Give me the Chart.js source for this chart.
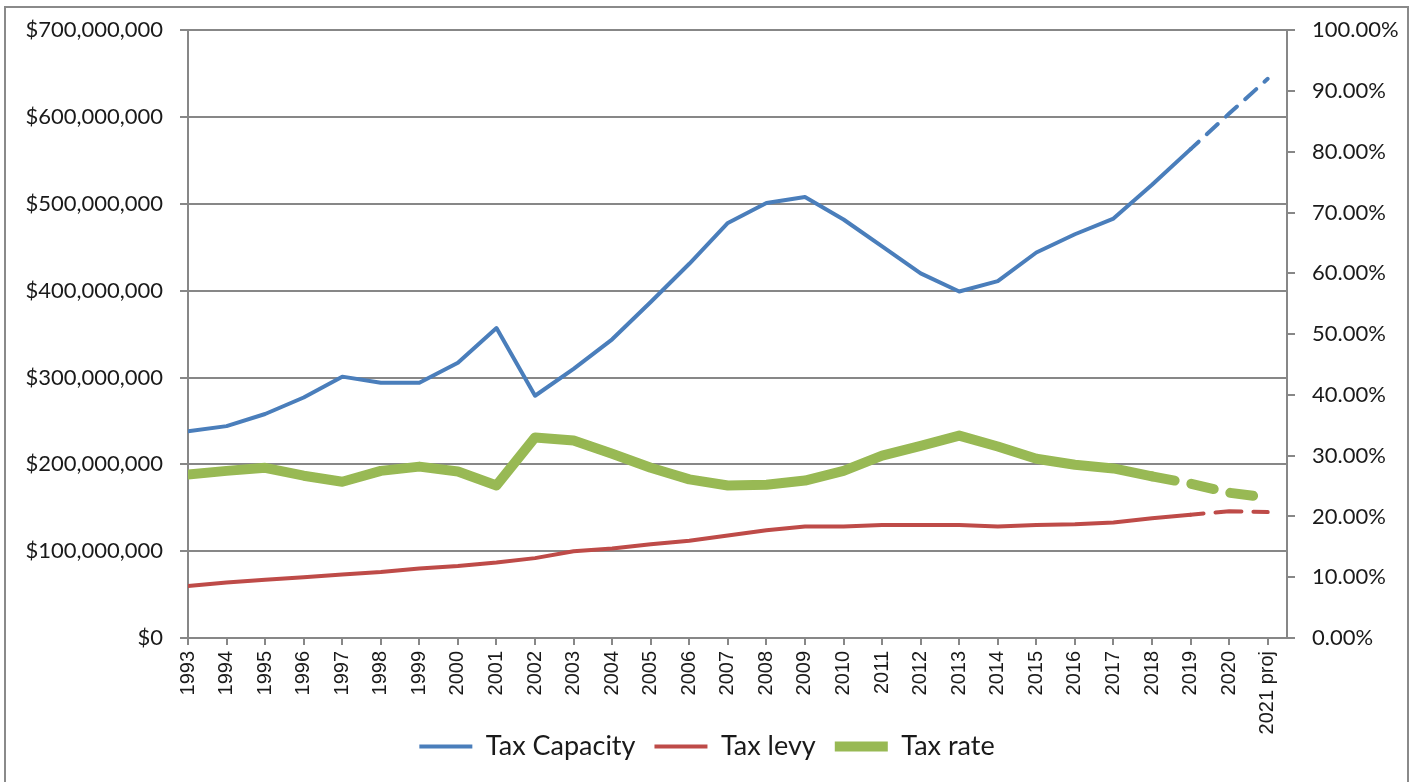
<!DOCTYPE html>
<html>
<head>
<meta charset="utf-8">
<script src="https://cdn.jsdelivr.net/npm/chart.js@4.4.0/dist/chart.umd.min.js"></script>
<style>
  body { margin: 0; background: #fff; }
  #wrap { position: absolute; left: 0; top: 0; width: 1414px; height: 782px; }
</style>
</head>
<body>
<div id="wrap"><canvas id="taxChart" width="1414" height="782"></canvas></div>
<script>
// Data
const years = ['1993', '1994', '1995', '1996', '1997', '1998', '1999', '2000', '2001', '2002',
  '2003', '2004', '2005', '2006', '2007', '2008', '2009', '2010', '2011', '2012',
  '2013', '2014', '2015', '2016', '2017', '2018', '2019', '2020', '2021 proj'];
const taxCapacity = [238, 244, 258, 277, 301, 294, 294, 317, 357, 279,
  310, 344, 387, 431, 478, 501, 508, 482, 451, 420,
  399, 411, 444, 465, 483, 522, 563, 604, 644].map(v => v * 1e6);
const taxLevy = [60, 64, 67, 70, 73, 76, 80, 83, 87, 92,
  100, 103, 108, 112, 118, 124, 128.5, 128.5, 130, 130,
  130, 128.5, 130, 131, 133, 138, 142, 146, 145].map(v => v * 1e6);
const taxRate = [26.9, 27.5, 28.0, 26.7, 25.7, 27.5, 28.2, 27.4, 25.1, 33.0,
  32.5, 30.3, 28.0, 26.1, 25.1, 25.2, 25.9, 27.5, 30.0, 31.6,
  33.3, 31.5, 29.5, 28.5, 27.9, 26.6, 25.4, 23.9, 23.1];

const gridColor = '#878787';
const textColor = '#1a1a1a';

function points(arr) {
  return arr.map((v, i) => ({ x: i, y: v }));
}

// dashed segments for the projection part
function dashed(from, dash, offset) {
  return {
    borderDash: ctx => ctx.p0DataIndex >= from ? dash : undefined,
    borderDashOffset: ctx => ctx.p0DataIndex >= from ? offset : undefined
  };
}

const frame = {
  id: 'frame',
  afterLayout(chart) {
    // let the long rotated labels ("2021 proj") draw past the axis box
    chart.scales.x.bottom = chart.height;
  },
  beforeDraw(chart) {
    const c = chart.ctx;
    c.save();
    c.strokeStyle = '#8a8a8a';
    c.lineWidth = 2;
    c.strokeRect(5, 7, 1403, 800);
    c.restore();
  }
};

const ctx = document.getElementById('taxChart').getContext('2d');
const chart = new Chart(ctx, {
  type: 'line',
  data: {
    datasets: [
      {
        label: 'Tax Capacity',
        data: points(taxCapacity),
        borderColor: '#4a7ebb',
        backgroundColor: '#4a7ebb',
        borderWidth: 4,
        borderCapStyle: 'round',
        borderJoinStyle: 'round',
        yAxisID: 'y',
        segment: dashed(26, [15, 11], 4)
      },
      {
        label: 'Tax levy',
        data: points(taxLevy),
        borderColor: '#be4b48',
        backgroundColor: '#be4b48',
        borderWidth: 4,
        borderCapStyle: 'round',
        borderJoinStyle: 'round',
        yAxisID: 'y',
        segment: dashed(26, [26, 12], 13)
      },
      {
        label: 'Tax rate',
        data: points(taxRate),
        borderColor: '#98b954',
        backgroundColor: '#98b954',
        borderWidth: 10,
        borderCapStyle: 'round',
        borderJoinStyle: 'round',
        yAxisID: 'y1',
        segment: dashed(25, [23, 17], 0)
      }
    ]
  },
  plugins: [frame],
  options: {
    responsive: false,
    animation: false,
    elements: { point: { radius: 0, hoverRadius: 0 }, line: { tension: 0 } },
    layout: { padding: { top: 28, bottom: 12, left: 0, right: 0 } },
    plugins: {
      tooltip: { enabled: false },
      legend: {
        position: 'bottom',
        labels: {
          usePointStyle: true,
          pointStyle: 'line',
          pointStyleWidth: 53,
          color: textColor,
          padding: 19,
          font: { family: 'Lato', size: 27 }
        }
      }
    },
    scales: {
      x: {
        type: 'linear',
        min: 0,
        max: 28.5,
        afterFit: s => { s.height = 76; },
        border: { color: gridColor, width: 2 },
        grid: { drawOnChartArea: false, color: gridColor, lineWidth: 2, tickLength: 7 },
        ticks: {
          stepSize: 1,
          includeBounds: false,
          autoSkip: false,
          minRotation: 90,
          maxRotation: 90,
          padding: 6,
          color: textColor,
          font: { family: 'Liberation Sans', size: 20 },
          callback: v => years[v] !== undefined ? years[v] : ''
        }
      },
      y: {
        position: 'left',
        min: 0,
        max: 700000000,
        afterFit: s => { s.width = 188; },
        border: { color: gridColor, width: 2 },
        grid: { color: gridColor, lineWidth: 2, tickLength: 8 },
        ticks: {
          stepSize: 100000000,
          padding: 17,
          color: textColor,
          font: { family: 'Lato', size: 22 },
          callback: v => '$' + v.toLocaleString('en-US')
        }
      },
      y1: {
        position: 'right',
        min: 0,
        max: 100,
        afterFit: s => { s.width = 127; },
        border: { color: gridColor, width: 2 },
        grid: { drawOnChartArea: false, color: gridColor, lineWidth: 2, tickLength: 8 },
        ticks: {
          stepSize: 10,
          padding: 17,
          color: textColor,
          font: { family: 'Lato', size: 22 },
          callback: v => v.toFixed(2) + '%'
        }
      }
    }
  }
});
</script>
</body>
</html>
